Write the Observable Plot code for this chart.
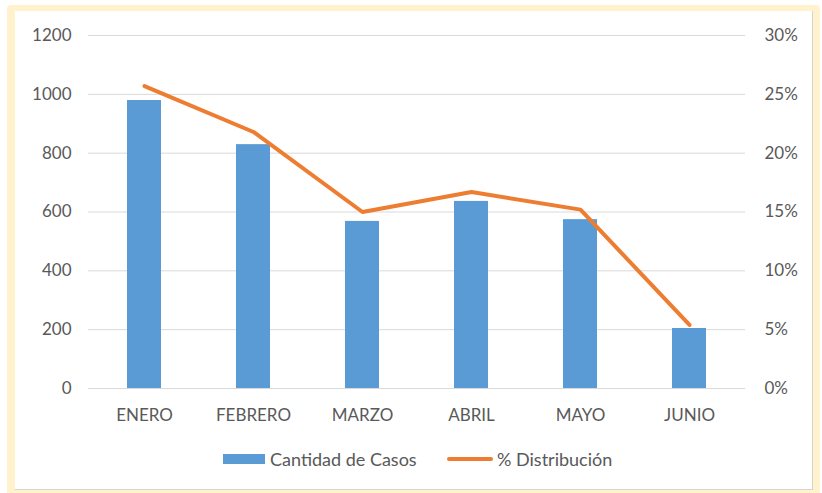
<!DOCTYPE html>
<html>
<head>
<meta charset="utf-8">
<script src="https://cdn.jsdelivr.net/npm/d3@7"></script>
<script src="https://cdn.jsdelivr.net/npm/@observablehq/plot@0.6"></script>
<style>
  html, body { margin: 0; padding: 0; background: #ffffff; }
  body { width: 822px; height: 493px; position: relative; overflow: hidden; font-family: Lato, "Liberation Sans", sans-serif; }
  #outer { position: absolute; left: 7px; top: 5px; width: 813px; height: 492px; background: #fff2cc; border-radius: 4px; }
  #inner { position: absolute; left: 15px; top: 11px; width: 797px; height: 478px; background: #ffffff; border-right: 1px solid #d4d4d4; border-bottom: 1px solid #d4d4d4; }
  #chart { position: absolute; left: 0; top: 0; }
  #legend { position: absolute; left: 0; top: 448px; width: 822px; height: 22px; font-size: 18px; color: #595959; }
  .item { position: absolute; top: 0; display: flex; align-items: center; height: 22px; }
  .sw-bar { width: 42px; height: 10px; background: #5b9bd5; margin-right: 5px; }
  .sw-line { width: 46px; height: 4px; background: #ed7d31; border-radius: 2px; margin-right: 4px; }
</style>
</head>
<body>
<div id="outer"></div>
<div id="inner"></div>
<div id="chart"></div>
<div id="legend"></div>
<script>
const meses = ["ENERO", "FEBRERO", "MARZO", "ABRIL", "MAYO", "JUNIO"];
const casos = [979, 829, 568, 636, 574, 204];
const distribucion = [0.257, 0.218, 0.150, 0.167, 0.152, 0.054];
const leftTicks = [0, 200, 400, 600, 800, 1000, 1200];
const rightTicks = [0, 0.05, 0.10, 0.15, 0.20, 0.25, 0.30];
const serieBarras = "Cantidad de Casos";
const serieLinea = "% Distribución";

const yMax = 1200, pctMax = 0.30;
const k = yMax / pctMax;

const rows = meses.map((m, i) => ({mes: m, casos: casos[i], pct: distribucion[i], pctY: distribucion[i] * k}));

const chart = Plot.plot({
  width: 822,
  height: 440,
  marginLeft: 88,
  marginRight: 77,
  marginTop: 35,
  marginBottom: 52,
  style: {fontFamily: "Lato, 'Liberation Sans', sans-serif", fontSize: "17px", color: "#595959", background: "transparent"},
  x: {domain: meses, paddingInner: 0.69, paddingOuter: 0.345, label: null},
  y: {domain: [0, yMax], label: null},
  marks: [
    Plot.gridY(leftTicks, {stroke: "#d9d9d9", strokeOpacity: 1, strokeWidth: 1}),
    Plot.barY(rows, {x: "mes", y: "casos", fill: "#5b9bd5"}),
    Plot.line(rows, {x: "mes", y: "pctY", stroke: "#ed7d31", strokeWidth: 4, strokeLinejoin: "round", strokeLinecap: "round"}),
    Plot.axisY(leftTicks, {anchor: "left", tickSize: 0, tickPadding: 17, label: null, fill: "#595959", tickFormat: d => String(d)}),
    Plot.axisY(rightTicks.map(t => t * k), {anchor: "right", tickSize: 0, tickPadding: 19, label: null, fill: "#595959", tickFormat: d => Math.round(d / k * 100) + "%"}),
    Plot.axisX({tickSize: 0, tickPadding: 20, label: null, fill: "#595959"})
  ]
});
document.getElementById("chart").appendChild(chart);

const legend = document.getElementById("legend");
const it1 = document.createElement("div");
it1.className = "item"; it1.style.left = "223px";
it1.innerHTML = `<div class="sw-bar"></div><span>${serieBarras}</span>`;
legend.appendChild(it1);
const it2 = document.createElement("div");
it2.className = "item"; it2.style.left = "447px";
it2.innerHTML = `<div class="sw-line"></div><span>${serieLinea}</span>`;
legend.appendChild(it2);
</script>
</body>
</html>
